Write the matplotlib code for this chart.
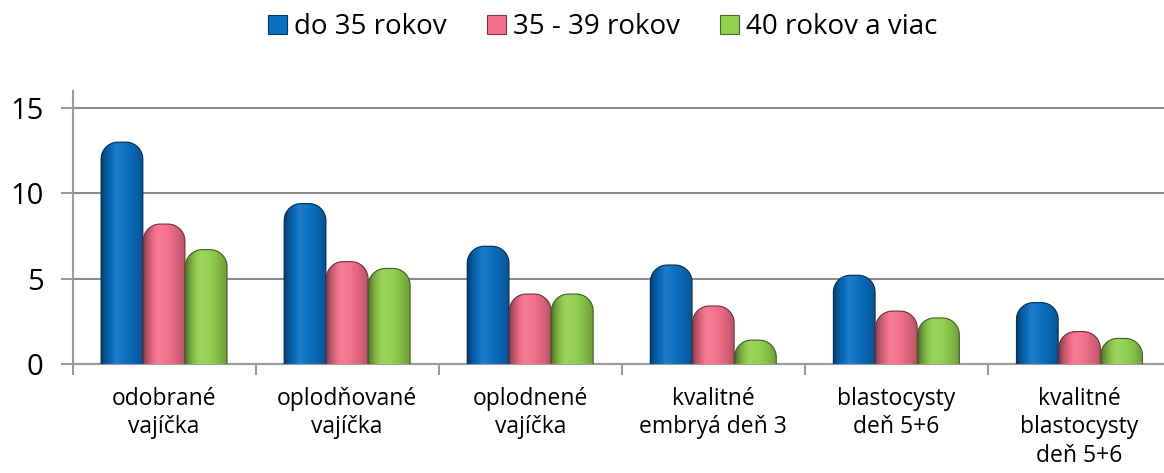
import numpy as np
import matplotlib.pyplot as plt
from matplotlib.patches import Polygon, Patch
from matplotlib.colors import to_rgb

plt.rcParams['font.family'] = ['Open Sans', 'DejaVu Sans']

categories = ["odobrané\nvajíčka", "oplodňované\nvajíčka", "oplodnené\nvajíčka",
              "kvalitné\nembryá deň 3", "blastocysty\ndeň 5+6", "kvalitné\nblastocysty\ndeň 5+6"]
series_names = ["do 35 rokov", "35 - 39 rokov", "40 rokov a viac"]
do35 = [13.0, 9.4, 6.9, 5.8, 5.2, 3.6]
r35_39 = [8.2, 6.0, 4.1, 3.4, 3.1, 1.9]
r40 = [6.7, 5.6, 4.1, 1.4, 2.7, 1.5]
colors = ["#0B70C2", "#F4708A", "#92D050"]


def shade(base, n=120):
    # horizontal cylinder shading: dark left edge, highlight, softer right
    t = np.linspace(0, 1, n)
    f = np.where(t < 0.35,
                 0.45 + 0.62 * (t / 0.35) ** 0.6,
                 1.07 - 0.32 * ((t - 0.35) / 0.65) ** 1.6)
    b = np.array(to_rgb(base))
    out = []
    for v in f:
        if v <= 1:
            out.append(b * v)
        else:
            out.append(b + (1 - b) * (v - 1) * 1.2)
    return np.clip(np.array(out), 0, 1)[None, :, :]


def rounded_top(x0, w, h, rx, ry):
    # outline of a bar whose two top corners are elliptical arcs
    a = np.linspace(0, np.pi / 2, 20)
    left = np.c_[x0 + rx - rx * np.cos(a), h - ry + ry * np.sin(a)]
    right = np.c_[x0 + w - rx + rx * np.sin(a), h - ry + ry * np.cos(a)]
    return np.vstack([[x0, -1], left, right, [x0 + w, -1]])


fig = plt.figure(figsize=(11.64, 4.73), dpi=100)
ax = fig.add_axes([0.0623, 0.2304, 0.9437, 0.5774])

x = np.arange(len(categories))
w = 0.228
offs = [-0.23, 0.0, 0.23]
ax.set_xlim(-0.5, len(categories) - 0.5)
ax.set_ylim(0, 16)

# pixel -> data scale for the rounded bar tops
bb = ax.get_window_extent()
px_x = len(categories) / bb.width
px_y = 16 / bb.height
r_px = 17
rx, ry = r_px * px_x, r_px * px_y

for vals, off, col in zip([do35, r35_39, r40], offs, colors):
    bars = ax.bar(x + off, vals, width=w, color=col, zorder=2)
    grad = shade(col)
    edge = tuple(np.array(to_rgb(col)) * 0.45)
    for rect in bars:
        x0, h = rect.get_x(), rect.get_height()
        shape = Polygon(rounded_top(x0, w, h, rx, ry), closed=True,
                        facecolor="none", edgecolor=edge, lw=0.8, zorder=4)
        ax.add_patch(shape)
        rect.set_clip_path(shape)
        im = ax.imshow(grad, extent=[x0, x0 + w, 0, h], aspect="auto",
                       interpolation="bilinear", zorder=3)
        im.set_clip_path(shape)

ax.set_xlim(-0.5, len(categories) - 0.5)
ax.set_ylim(0, 16)

ax.set_yticks([0, 5, 10, 15])
ax.yaxis.grid(True, color="#8c8c8c", lw=1.5)
ax.set_axisbelow(True)
ax.tick_params(axis="y", length=9, width=1.5, color="#9a9a9a", pad=12, labelsize=21)

ax.set_xticks(np.arange(-0.5, len(categories)), labels=[""] * (len(categories) + 1))
ax.set_xticks(x, labels=categories, minor=True)
ax.tick_params(axis="x", which="major", length=8, width=1.5, color="#9a9a9a")
ax.tick_params(axis="x", which="minor", length=0, pad=16.5, labelsize=16.5)
for lab in ax.get_xticklabels(minor=True):
    lab.set_linespacing(1.25)
    lab.set_verticalalignment("top")

for s in ["top", "right"]:
    ax.spines[s].set_visible(False)
for s in ["left", "bottom"]:
    ax.spines[s].set_color("#9a9a9a")
    ax.spines[s].set_linewidth(1.5)

handles = [Patch(facecolor=c, edgecolor=tuple(np.array(to_rgb(c)) * 0.5), lw=0.8) for c in colors]
fig.legend(handles, series_names, loc="center", bbox_to_anchor=(603 / 1164, 0.943),
           ncol=3, frameon=False, fontsize=20, handlelength=0.68, handleheight=0.68,
           handletextpad=0.25, columnspacing=1.45)

fig.savefig("out.png", dpi=100)
